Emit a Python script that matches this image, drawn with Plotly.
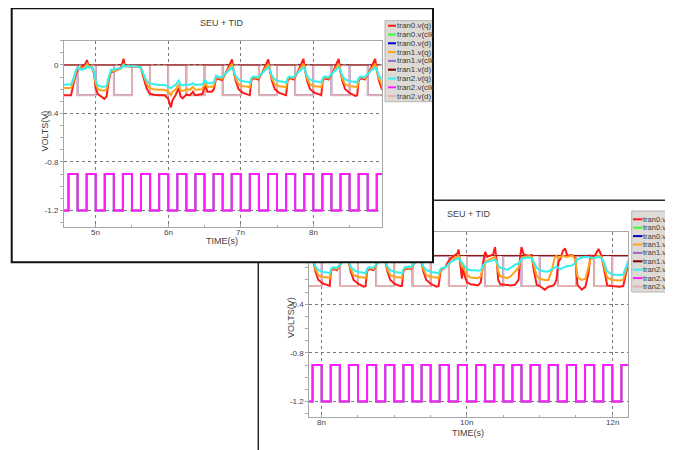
import plotly.graph_objects as go

# The page body adds an 8 px margin, so the figure is drawn 8 px smaller and
# every pixel position below is given in window pixels and shifted by OFF.
WIN_W, WIN_H = 673, 450
OFF = 8
W, H = WIN_W - OFF, WIN_H - OFF

# ---------------- data (time in ns, volts) ----------------
clk_t = [4.5, 4.625, 4.75, 4.875, 5.0, 5.125, 5.25, 5.375, 5.5, 5.625, 5.75, 5.875,
         6.0, 6.125, 6.25, 6.375, 6.5, 6.625, 6.75, 6.875, 7.0, 7.125, 7.25, 7.375,
         7.5, 7.625, 7.75, 7.875, 8.0, 8.125, 8.25, 8.375, 8.5, 8.625, 8.75, 8.875,
         9.0, 9.125, 9.25, 9.375, 9.5, 9.625, 9.75, 9.875, 10.0, 10.125, 10.25, 10.375,
         10.5, 10.625, 10.75, 10.875, 11.0, 11.125, 11.25, 11.375, 11.5, 11.625, 11.75,
         11.875, 12.0, 12.125, 12.25, 12.375]
clk_v = [-1.2, -0.9, -1.2, -0.9, -1.2, -0.9, -1.2, -0.9, -1.2, -0.9, -1.2, -0.9,
         -1.2, -0.9, -1.2, -0.9, -1.2, -0.9, -1.2, -0.9, -1.2, -0.9, -1.2, -0.9,
         -1.2, -0.9, -1.2, -0.9, -1.2, -0.9, -1.2, -0.9, -1.2, -0.9, -1.2, -0.9,
         -1.2, -0.9, -1.2, -0.9, -1.2, -0.9, -1.2, -0.9, -1.2, -0.9, -1.2, -0.9,
         -1.2, -0.9, -1.2, -0.9, -1.2, -0.9, -1.2, -0.9, -1.2, -0.9, -1.2,
         -0.9, -1.2, -0.9, -1.2, -0.9]

d_t = [4.5, 4.75, 5.0, 5.25, 5.5, 5.75, 6.0, 6.25, 6.5, 6.75, 7.0, 7.25, 7.5, 7.75,
       8.0, 8.25, 8.5, 8.75, 9.0, 9.25, 9.5, 9.75, 10.0, 10.25, 10.5, 10.75, 11.0,
       11.25, 11.5, 11.75, 12.0, 12.25, 12.5]
d_v = [0.0, -0.25, 0.0, -0.25, 0.0, -0.25, 0.0, -0.25, 0.0, -0.25, 0.0, -0.25, 0.0,
       -0.25, 0.0, -0.25, 0.0, -0.25, 0.0, -0.25, 0.0, -0.25, 0.0, -0.25, 0.0, -0.25,
       0.0, -0.25, 0.0, -0.25, 0.0, -0.25, 0.0]

d1_t = [4.5, 12.5]
d1_v = [0.0, 0.0]

q_t = [4.50, 4.55, 4.60, 4.66, 4.70, 4.73, 4.76, 4.80, 4.86, 4.88, 4.90, 4.95, 4.98,
       5.00, 5.03, 5.08, 5.12, 5.15, 5.18, 5.21, 5.25, 5.30, 5.35, 5.385, 5.40, 5.45,
       5.50, 5.55, 5.62, 5.66, 5.70, 5.74, 5.80, 5.88, 5.95, 6.00, 6.035, 6.06, 6.10,
       6.145, 6.17, 6.20, 6.25, 6.30, 6.34, 6.37, 6.42, 6.47, 6.51, 6.54, 6.60, 6.63,
       6.66, 6.70,
       6.74, 6.79, 6.83, 6.865, 6.88, 6.90, 6.93, 6.97, 7.03, 7.10, 7.125, 7.145, 7.17,
       7.21, 7.24, 7.29, 7.33, 7.365, 7.38, 7.40, 7.43, 7.47, 7.53, 7.60, 7.625, 7.645,
       7.67, 7.71, 7.73, 7.775, 7.815, 7.85, 7.865, 7.885, 7.915, 7.955, 8.02, 8.09,
       8.11, 8.13, 8.155, 8.19, 8.21, 8.26, 8.30, 8.335, 8.35, 8.37, 8.40, 8.44, 8.51,
       8.58, 8.605, 8.625, 8.65, 8.69, 8.71, 8.76, 8.80, 8.84, 8.853, 8.875, 8.905,
       8.945, 9.01, 9.08, 9.105, 9.125, 9.15, 9.20, 9.23, 9.27, 9.30, 9.335, 9.35, 9.37,
       9.40, 9.44, 9.51, 9.58, 9.61, 9.635, 9.66, 9.70, 9.73, 9.78, 9.83, 9.87, 9.885,
       9.90, 9.93, 9.95, 9.97, 10.00, 10.05, 10.10, 10.15, 10.19, 10.22, 10.25, 10.28,
       10.32, 10.36, 10.385, 10.41, 10.43, 10.46, 10.52, 10.56, 10.60, 10.66, 10.71,
       10.73, 10.75, 10.78, 10.85, 10.89, 10.92, 10.96, 11.00, 11.07, 11.12, 11.17,
       11.20, 11.23, 11.26, 11.29, 11.32, 11.35, 11.38, 11.45, 11.49, 11.52, 11.55,
       11.58, 11.63, 11.67, 11.70, 11.75, 11.81, 11.85, 11.89, 11.93, 12.00, 12.10,
       12.15, 12.19, 12.22, 12.26]

q_red = [-0.25, -0.25, -0.255, -0.25, -0.14, -0.07, -0.03, -0.02, 0.01, 0.04, -0.01,
         -0.02, -0.08, -0.19, -0.24, -0.26, -0.28, -0.26, -0.13, -0.06, -0.05, -0.04,
         -0.02, 0.05, -0.01, -0.01, -0.01, -0.015, -0.02, -0.10, -0.19, -0.235, -0.245,
         -0.25, -0.25, -0.28, -0.35, -0.29, -0.25, -0.19, -0.26, -0.275, -0.245, -0.25,
         -0.22, -0.25, -0.245, -0.24, -0.165, -0.22, -0.22, -0.20, -0.11, -0.12,
         -0.125, -0.07, -0.02, 0.02, 0.045, -0.04, -0.13, -0.20, -0.23, -0.245, -0.25,
         -0.13, -0.11, -0.115, -0.12, -0.07, -0.02, 0.02, 0.045, -0.04, -0.13, -0.20,
         -0.23, -0.245, -0.25, -0.13, -0.11, -0.115, -0.12, -0.07, -0.02, 0.02, 0.05,
         -0.04, -0.13, -0.20, -0.23, -0.245, -0.25, -0.13, -0.11, -0.115, -0.12, -0.07,
         -0.02, 0.02, 0.05, -0.04, -0.13, -0.20, -0.235, -0.255, -0.25, -0.13, -0.11,
         -0.115, -0.12, -0.07, -0.02, 0.02, 0.05, -0.04, -0.13, -0.20, -0.235, -0.25,
         -0.25, -0.13, -0.11, -0.105, -0.11, -0.07, -0.02, 0.02, 0.05, -0.04, -0.13,
         -0.20, -0.235, -0.255, -0.25, -0.13, -0.11, -0.10, -0.06, -0.02, 0.0, 0.02,
         0.05, -0.02, -0.19, -0.08, -0.17, -0.22, -0.235, -0.24, -0.245, -0.22, -0.06,
         0.03, -0.01, 0.0, 0.01, 0.07, -0.05, -0.20, -0.235, -0.24, -0.245, -0.245,
         -0.24, -0.20, -0.02, 0.07, 0.01, 0.0, 0.005, -0.12, -0.24, -0.25, -0.28,
         -0.255, -0.25, -0.24, -0.20, -0.05, -0.02, 0.04, 0.06, 0.0, 0.005, -0.02,
         -0.24, -0.26, -0.28, -0.255, -0.15, 0.0, -0.01, 0.055, 0.0, -0.12, -0.245,
         -0.25, -0.255, -0.25, -0.15, -0.06, -0.03]

q_orange = [-0.19, -0.19, -0.195, -0.19, -0.12, -0.05, -0.025, -0.03, -0.01, 0.01,
            -0.01, -0.02, -0.07, -0.15, -0.20, -0.21, -0.21, -0.20, -0.11, -0.05, -0.05,
            -0.04, -0.03, 0.01, -0.01, -0.01, -0.01, -0.015, -0.02, -0.08, -0.15, -0.19,
            -0.20, -0.205, -0.205, -0.22, -0.25, -0.22, -0.205, -0.16, -0.21, -0.215,
            -0.20, -0.205, -0.18, -0.205, -0.20, -0.20, -0.15, -0.18, -0.18, -0.17,
            -0.10, -0.11,
            -0.115, -0.07, -0.035, -0.01, 0.01, -0.04, -0.11, -0.16, -0.175, -0.18,
            -0.185, -0.12, -0.10, -0.105, -0.11, -0.07, -0.035, -0.01, 0.01, -0.04,
            -0.11, -0.16, -0.175, -0.18, -0.185, -0.12, -0.10, -0.105, -0.11, -0.07,
            -0.035, -0.01, 0.01, -0.04, -0.11, -0.16, -0.175, -0.18, -0.185, -0.12,
            -0.10, -0.105, -0.11, -0.07, -0.035, -0.01, 0.01, -0.04, -0.11, -0.16,
            -0.175, -0.18, -0.185, -0.12, -0.10, -0.105, -0.11, -0.07, -0.035, -0.01,
            0.01, -0.04, -0.11, -0.16, -0.175, -0.18, -0.185, -0.12, -0.10, -0.10,
            -0.105, -0.07, -0.035, -0.01, 0.01, -0.04, -0.11, -0.16, -0.175, -0.18,
            -0.185, -0.12, -0.105, -0.10, -0.08, -0.045, -0.02, -0.005, 0.0,
            -0.02, -0.09, -0.10, -0.13, -0.16, -0.18, -0.18, -0.185, -0.17, -0.10,
            -0.06, -0.04, -0.03, -0.02, -0.01, -0.06, -0.13, -0.17, -0.18, -0.185,
            -0.17, -0.13, -0.10, -0.05, -0.02, -0.01, -0.005, -0.01, -0.08, -0.17,
            -0.19, -0.20, -0.20, -0.12, -0.03, 0.0, -0.02, -0.01, 0.0, -0.01, -0.01,
            0.0, -0.03, -0.17, -0.19, -0.20, -0.19, -0.10, -0.03, -0.02, 0.0, -0.01,
            -0.09, -0.18, -0.20, -0.205, -0.20, -0.12, -0.05, -0.03]

q_cyan = [-0.165, -0.165, -0.165, -0.16, -0.10, -0.04, -0.02, -0.04, -0.03, -0.01,
          -0.02, -0.02, -0.06, -0.13, -0.17, -0.18, -0.18, -0.17, -0.10, -0.04, -0.04,
          -0.03, -0.03, 0.0, -0.01, -0.01, -0.01, -0.01, -0.02, -0.07, -0.13, -0.15,
          -0.16, -0.165, -0.165, -0.18, -0.19, -0.18, -0.165, -0.13, -0.165, -0.17,
          -0.16, -0.165, -0.15, -0.165, -0.16, -0.16, -0.125, -0.15, -0.15, -0.14,
          -0.09, -0.10,
          -0.10, -0.07, -0.045, -0.03, -0.02, -0.04, -0.09, -0.12, -0.135, -0.14,
          -0.145, -0.11, -0.095, -0.10, -0.10, -0.07, -0.045, -0.03, -0.02, -0.04,
          -0.09, -0.12, -0.135, -0.14, -0.145, -0.11, -0.095, -0.10, -0.10, -0.07,
          -0.045, -0.03, -0.02, -0.04, -0.09, -0.12, -0.135, -0.14, -0.145, -0.11,
          -0.095, -0.10, -0.10, -0.07, -0.045, -0.03, -0.02, -0.04, -0.09, -0.12,
          -0.135, -0.14, -0.145, -0.11, -0.095, -0.10, -0.10, -0.07, -0.045, -0.03,
          -0.02, -0.04, -0.09, -0.12, -0.135, -0.14, -0.145, -0.11, -0.095, -0.09,
          -0.095, -0.07, -0.045, -0.03, -0.02, -0.04, -0.09, -0.12, -0.135, -0.14,
          -0.145, -0.11, -0.10, -0.10, -0.08, -0.05, -0.035, -0.025, -0.02,
          -0.03, -0.06, -0.07, -0.09, -0.11, -0.12, -0.12, -0.125, -0.12, -0.08,
          -0.06, -0.05, -0.045, -0.04, -0.035, -0.05, -0.08, -0.10, -0.11, -0.115,
          -0.10, -0.075, -0.065, -0.05, -0.03, -0.02, -0.015, -0.02, -0.05, -0.10,
          -0.12, -0.13, -0.13, -0.11, -0.10, -0.09, -0.10, -0.11, -0.10, -0.09,
          -0.085, -0.08, -0.06, -0.03, -0.02, -0.015, -0.01, -0.01, -0.015, -0.02,
          -0.01, -0.02, -0.06, -0.13, -0.155, -0.16, -0.155, -0.09, -0.04, -0.03]

series_names = ["tran0.v(q)", "tran0.v(clk)", "tran0.v(d)", "tran1.v(q)", "tran1.v(clk)",
                "tran1.v(d)", "tran2.v(q)", "tran2.v(clk)", "tran2.v(d)"]
series_colors = ["#ff1a1a", "#33ff33", "#0000cc", "#ffa31a", "#9966cc", "#800000",
                 "#33f0f0", "#ff1aff", "#e3b1b1"]
# legend labels as far as each window shows them (the window edge cuts them)
front_leg_text = ["tran0.v(q)", "tran0.v(clk", "tran0.v(d)", "tran1.v(q)", "tran1.v(clk",
                  "tran1.v(d)", "tran2.v(q)", "tran2.v(clk", "tran2.v(d)"]
back_leg_text = ["tran0.v(q", "tran0.v(c", "tran0.v(d", "tran1.v(q", "tran1.v(c",
                 "tran1.v(d", "tran2.v(q", "tran2.v(c", "tran2.v(d"]

front_xticks = [5, 6, 7, 8]
front_xtext = ["5n", "6n", "7n", "8n"]
back_xticks = [8, 10, 12]
back_xtext = ["8n", "10n", "12n"]
y_ticks = [0, -0.4, -0.8, -1.2]
y_text = ["0", "-0.4", "-0.8", "-1.2"]


# ---------------- helpers ----------------
def fx(p):
    return (p - OFF) / W


def fy(p):
    return 1 - (p - OFF) / H


FONT = "Liberation Sans, Arial, sans-serif"
TXT = "#444444"

series_data = {
    "tran0.v(q)": (q_t, q_red, 2, "linear"),
    "tran0.v(clk)": (clk_t, clk_v, 2, "hv"),
    "tran0.v(d)": (d_t, d_v, 1.5, "hv"),
    "tran1.v(q)": (q_t, q_orange, 2, "linear"),
    "tran1.v(clk)": (clk_t, clk_v, 2, "hv"),
    "tran1.v(d)": (d1_t, d1_v, 1, "linear"),
    "tran2.v(q)": (q_t, q_cyan, 2, "linear"),
    "tran2.v(clk)": (clk_t, clk_v, 2, "hv"),
    "tran2.v(d)": (d_t, d_v, 2, "hv"),
}
draw_order = ["tran0.v(clk)", "tran1.v(clk)", "tran2.v(clk)", "tran0.v(d)", "tran2.v(d)",
              "tran1.v(d)", "tran0.v(q)", "tran1.v(q)", "tran2.v(q)"]
color_of = dict(zip(series_names, series_colors))

fig = go.Figure()


def add_series(xa, ya):
    for nm in draw_order:
        t, v, w, shape = series_data[nm]
        fig.add_trace(go.Scatter(x=t, y=v, mode="lines", name=nm,
                                 line=dict(color=color_of[nm], width=w, shape=shape),
                                 xaxis=xa, yaxis=ya, showlegend=False, hoverinfo="skip"))


# back window (drawn first), then an empty subplot whose white background is the
# front window's face, then the front window
add_series("x", "y")
fig.add_trace(go.Scatter(x=[0], y=[0], mode="lines", xaxis="x2", yaxis="y2",
                         showlegend=False, hoverinfo="skip", line=dict(width=0)))
add_series("x3", "y3")


def xaxis_cfg(domain, rng, tv, anchor):
    return dict(domain=domain, range=rng, anchor=anchor, tickmode="array", tickvals=tv,
                showticklabels=False, showline=True, mirror=True, linecolor="#a6a6a6",
                linewidth=1, showgrid=True, gridcolor="#7a7a7a", griddash="dot",
                gridwidth=1, zeroline=False, ticks="inside", ticklen=3,
                tickcolor="#a6a6a6",
                minor=dict(dtick=0.5, tick0=0, ticks="inside", ticklen=2,
                           tickcolor="#a6a6a6", showgrid=False),
                fixedrange=True)


def yaxis_cfg(domain, rng, anchor):
    return dict(domain=domain, range=rng, anchor=anchor, tickmode="array",
                tickvals=y_ticks, ticktext=y_text, showline=True, mirror=True,
                linecolor="#a6a6a6", linewidth=1, showgrid=True, gridcolor="#7a7a7a",
                griddash="dot", gridwidth=1, zeroline=False, ticks="outside", ticklen=3,
                tickcolor="#a6a6a6", tickfont=dict(family=FONT, size=8, color=TXT),
                minor=dict(dtick=0.1, tick0=0, ticks="outside", ticklen=3,
                           tickcolor="#a6a6a6", showgrid=False),
                fixedrange=True)


fig.update_layout(
    width=W, height=H, margin=dict(l=0, r=0, t=0, b=0, autoexpand=False),
    paper_bgcolor="white", plot_bgcolor="white", showlegend=False,
    xaxis=xaxis_cfg([fx(309.3), fx(628.3)], [7.83, 12.22], back_xticks, "y"),
    yaxis=yaxis_cfg([fy(416.7), fy(231.7)], [-1.325, 0.197], "x"),
    xaxis2=dict(domain=[fx(11), fx(433.5)], range=[0, 1], visible=False, anchor="y2",
                fixedrange=True),
    yaxis2=dict(domain=[fy(263), fy(8.2)], range=[0, 1], visible=False, anchor="x2",
                fixedrange=True),
    xaxis3=xaxis_cfg([fx(64), fx(381.7)], [4.563, 8.943], front_xticks, "y3"),
    yaxis3=yaxis_cfg([fy(226.7), fy(40.7)], [-1.334, 0.2], "x3"),
)

shapes = []
annotations = []

# back window frame (below everything, hidden by the front window)
shapes.append(dict(type="rect", xref="paper", yref="paper", x0=fx(258.3), x1=fx(720),
                   y0=fy(200.3), y1=fy(520), line=dict(color="#2a2a2a", width=1.5),
                   fillcolor="rgba(0,0,0,0)", layer="below"))


def legend(x0, x1, y0, y1, first_y, step, lx0, lx1, tx, texts, fsize):
    shapes.append(dict(type="rect", xref="paper", yref="paper", x0=fx(x0), x1=fx(x1),
                       y0=fy(y1), y1=fy(y0), line=dict(color="#b4b4b4", width=1),
                       fillcolor="#dedbd6", layer="above"))
    for i, nm in enumerate(series_names):
        yy = first_y + step * i
        shapes.append(dict(type="line", xref="paper", yref="paper", x0=fx(lx0),
                           x1=fx(lx1), y0=fy(yy), y1=fy(yy),
                           line=dict(color=color_of[nm], width=2), layer="above"))
        annotations.append(dict(text=texts[i], xref="paper", yref="paper", x=fx(tx),
                                y=fy(yy), xanchor="left", yanchor="middle",
                                showarrow=False, borderpad=0,
                                font=dict(family=FONT, size=fsize, color="#3a3a3a")))


legend(385, 433, 20.7, 101.7, 25.7, 8.8, 388, 396, 395.5, front_leg_text, 8)
legend(631.7, 700, 211, 292, 219.3, 8.4, 633, 642.5, 641.5, back_leg_text, 7.5)

# front window frame
shapes.append(dict(type="rect", xref="paper", yref="paper", x0=fx(11.7), x1=fx(433),
                   y0=fy(262.3), y1=fy(8.3), line=dict(color="#111111", width=2),
                   fillcolor="rgba(0,0,0,0)", layer="above"))


def label(text, x, y, size=9, angle=0):
    annotations.append(dict(text=text, xref="paper", yref="paper", x=fx(x), y=fy(y),
                            xanchor="center", yanchor="middle", showarrow=False,
                            textangle=angle, font=dict(family=FONT, size=size, color=TXT)))


def xtick_labels(xref, vals, texts, y):
    for v, t in zip(vals, texts):
        annotations.append(dict(text=t, xref=xref, yref="paper", x=v, y=fy(y),
                                xanchor="center", yanchor="middle", showarrow=False,
                                borderpad=0, font=dict(family=FONT, size=8, color=TXT)))


xtick_labels("x3", front_xticks, front_xtext, 232.3)
xtick_labels("x", back_xticks, back_xtext, 422.5)

label("SEU + TID", 222, 23)
label("TIME(s)", 222, 241)
label("VOLTS(V)", 44.5, 131, angle=-90)
label("SEU + TID", 468.5, 214)
label("TIME(s)", 468, 433)
label("VOLTS(V)", 291, 318, angle=-90)

fig.update_layout(shapes=shapes, annotations=annotations)
fig.write_html("out.html")
